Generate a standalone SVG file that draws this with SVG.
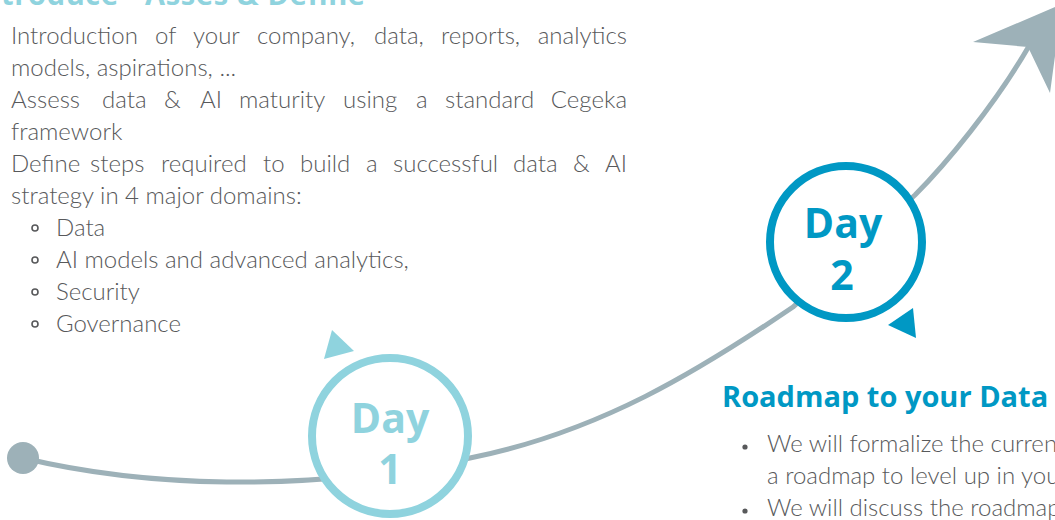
<svg xmlns="http://www.w3.org/2000/svg" width="1055" height="520" viewBox="0 0 1055 520">
<style>
.body{font-family:Lato,"Open Sans","Liberation Sans",sans-serif;font-weight:300;font-size:24px;fill:#58595b}
.end{text-anchor:end}
.h1{font-family:"Open Sans","Liberation Sans",sans-serif;font-weight:700;font-size:29px}
.day{font-family:"Open Sans","Liberation Sans",sans-serif;font-weight:700;font-size:41px;text-anchor:middle}
.conn{fill:none;stroke:#9db1b8;stroke-width:5}
</style>
<rect width="1055" height="520" fill="#ffffff"/>
<g id="connectors">
<path class="conn" d="M23,458 C140,486 300,494 470,458 C600,432 700,370 793,307 L915,195 C945,165 995,105 1029,46"/>
<circle cx="23" cy="458" r="16" fill="#9db1b8"/>
<polygon points="973,42 1062,4 1050,93 1028,47" fill="#9db1b8"/>
</g>
<g id="intro-text">
<text class="h1" x="-29" y="5" fill="#8fd3de" textLength="394">Introduce - Asses &amp; Define</text>
<text class="body" y="43.5"><tspan x="11">Introduction</tspan><tspan x="155">of</tspan><tspan x="193">your</tspan><tspan x="257">company,</tspan><tspan x="374">data,</tspan><tspan x="441">reports,</tspan></text>
<text class="body end" x="627" y="43.5">analytics</text>
<text class="body" x="11" y="75.5">models, aspirations, ...</text>
<text class="body" y="107.5"><tspan x="11">Assess</tspan><tspan x="102">data</tspan><tspan x="164">&amp;</tspan><tspan x="200">AI</tspan><tspan x="239">maturity</tspan><tspan x="343">using</tspan><tspan x="416">a</tspan><tspan x="445">standard</tspan></text>
<text class="body end" x="627" y="107.5">Cegeka</text>
<text class="body" x="11" y="139.5">framework</text>
<text class="body" y="171.5"><tspan x="11">Define</tspan><tspan x="90">steps</tspan><tspan x="161">required</tspan><tspan x="263">to</tspan><tspan x="300">build</tspan><tspan x="366">a</tspan><tspan x="393">successful</tspan><tspan x="513">data</tspan><tspan x="573">&amp;</tspan></text>
<text class="body end" x="627" y="171.5">AI</text>
<text class="body" x="11" y="203.5">strategy in 4 major domains:</text>
<g fill="none" stroke="#58595b" stroke-width="1.6">
<circle cx="35" cy="228" r="3"/>
<circle cx="35" cy="260" r="3"/>
<circle cx="35" cy="292" r="3"/>
<circle cx="35" cy="324" r="3"/>
</g>
<text class="body" x="56" y="235.5">Data</text>
<text class="body" x="56" y="267.5">AI models and advanced analytics,</text>
<text class="body" x="56" y="299.5">Security</text>
<text class="body" x="56" y="331.5">Governance</text>
</g>
<g id="day1">
<polygon points="332,330 354,351 324,359" fill="#8fd3de"/>
<circle cx="390" cy="436" r="78" fill="#ffffff" stroke="#8fd3de" stroke-width="8"/>
<text class="day" x="390" y="433" fill="#8fd3de">Day</text>
<text class="day" x="390" y="484" fill="#8fd3de">1</text>
</g>
<g id="day2">
<polygon points="913,308 916,338 888,325" fill="#0098c4"/>
<circle cx="846" cy="242" r="76" fill="#ffffff" stroke="#0098c4" stroke-width="8"/>
<text class="day" x="843" y="238" fill="#0098c4">Day</text>
<text class="day" x="842" y="290" fill="#0098c4">2</text>
</g>
<g id="roadmap-text">
<text class="h1" x="722" y="407" fill="#0098c4">Roadmap to your Data</text>
<circle cx="745" cy="447" r="2.6" fill="#58595b"/>
<circle cx="745" cy="511" r="2.6" fill="#58595b"/>
<text class="body" x="767" y="452">We will formalize the current</text>
<text class="body" x="767" y="484">a roadmap to level up in your</text>
<text class="body" x="767" y="516">We will discuss the roadmap</text>
</g>
</svg>
